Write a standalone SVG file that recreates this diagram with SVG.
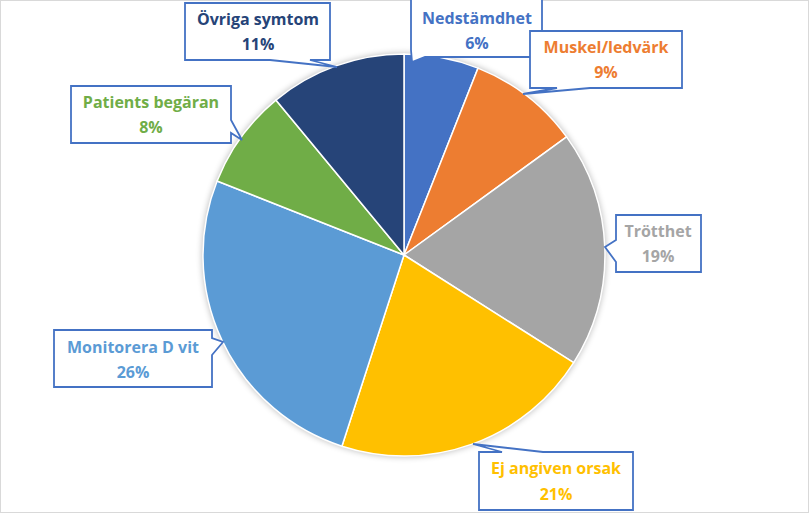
<svg xmlns="http://www.w3.org/2000/svg" width="809" height="513" viewBox="0 0 809 513">
<style>
.s{stroke:#fff;stroke-width:1.5}
.c{fill:#fff;stroke:#4472C4;stroke-width:1.8}
text{font-family:"Open Sans","Liberation Sans",sans-serif;font-weight:bold;font-size:16px;text-anchor:middle}
</style>
<defs><filter id="sh" x="-10%" y="-10%" width="120%" height="120%"><feGaussianBlur stdDeviation="3"/></filter></defs>
<rect x="0" y="0" width="809" height="513" fill="#fff" stroke="#d9d9d9" stroke-width="2"/>
<g id="pie">
<circle cx="404" cy="255" r="202" fill="#000" opacity="0.25" filter="url(#sh)"/>
<path class="s" fill="#4472C4" d="M404,255 L404,54 A201,201 0 0 1 478,68.1 Z"/>
<path class="s" fill="#ED7D31" d="M404,255 L478,68.1 A201,201 0 0 1 566.6,136.9 Z"/>
<path class="s" fill="#A5A5A5" d="M404,255 L566.6,136.9 A201,201 0 0 1 573.7,362.7 Z"/>
<path class="s" fill="#FFC000" d="M404,255 L573.7,362.7 A201,201 0 0 1 341.9,446.2 Z"/>
<path class="s" fill="#5B9BD5" d="M404,255 L341.9,446.2 A201,201 0 0 1 217.1,181 Z"/>
<path class="s" fill="#70AD47" d="M404,255 L217.1,181 A201,201 0 0 1 275.9,100.1 Z"/>
<path class="s" fill="#264478" d="M404,255 L275.9,100.1 A201,201 0 0 1 404,54 Z"/>
</g>
<g id="connectors"></g>
<g id="ovriga"><path class="c" d="M185,3 H330 V60 H310 L337,67 L270,60 H185 Z"/><text x="258" y="25" fill="#264478">Övriga symtom</text><text x="258" y="50" fill="#264478">11%</text></g>
<g id="ned"><path class="c" d="M411,-2 H542 V57 H425 L412,62 L411,50 Z"/><text x="477" y="24" fill="#4472C4">Nedstämdhet</text><text x="477" y="49" fill="#4472C4">6%</text></g>
<g id="muskel"><path class="c" d="M530,31 H682 V88 H590 L523,94 L557,88 H530 Z"/><text x="606" y="53" fill="#ED7D31">Muskel/ledvärk</text><text x="606" y="78" fill="#ED7D31">9%</text></g>
<g id="trotthet"><path class="c" d="M616,215 H701 V272 H616 V262 L605,247 L616,240 Z"/><text x="658" y="237" fill="#A5A5A5">Trötthet</text><text x="658" y="262" fill="#A5A5A5">19%</text></g>
<g id="ej"><path class="c" d="M479,452 H502 L473,444 L543,452 H633 V510 H479 Z"/><text x="556" y="474" fill="#FFC000">Ej angiven orsak</text><text x="556" y="500" fill="#FFC000">21%</text></g>
<g id="monitorera"><path class="c" d="M54,330 H212 V338 L223,342 L212,355 V387 H54 Z"/><text x="133" y="353" fill="#5B9BD5">Monitorera D vit</text><text x="133" y="378" fill="#5B9BD5">26%</text></g>
<g id="patients"><path class="c" d="M71,86 H231 V120 L242,140 L231,133 V143 H71 Z"/><text x="151" y="108" fill="#70AD47">Patients begäran</text><text x="151" y="133" fill="#70AD47">8%</text></g>
</svg>
